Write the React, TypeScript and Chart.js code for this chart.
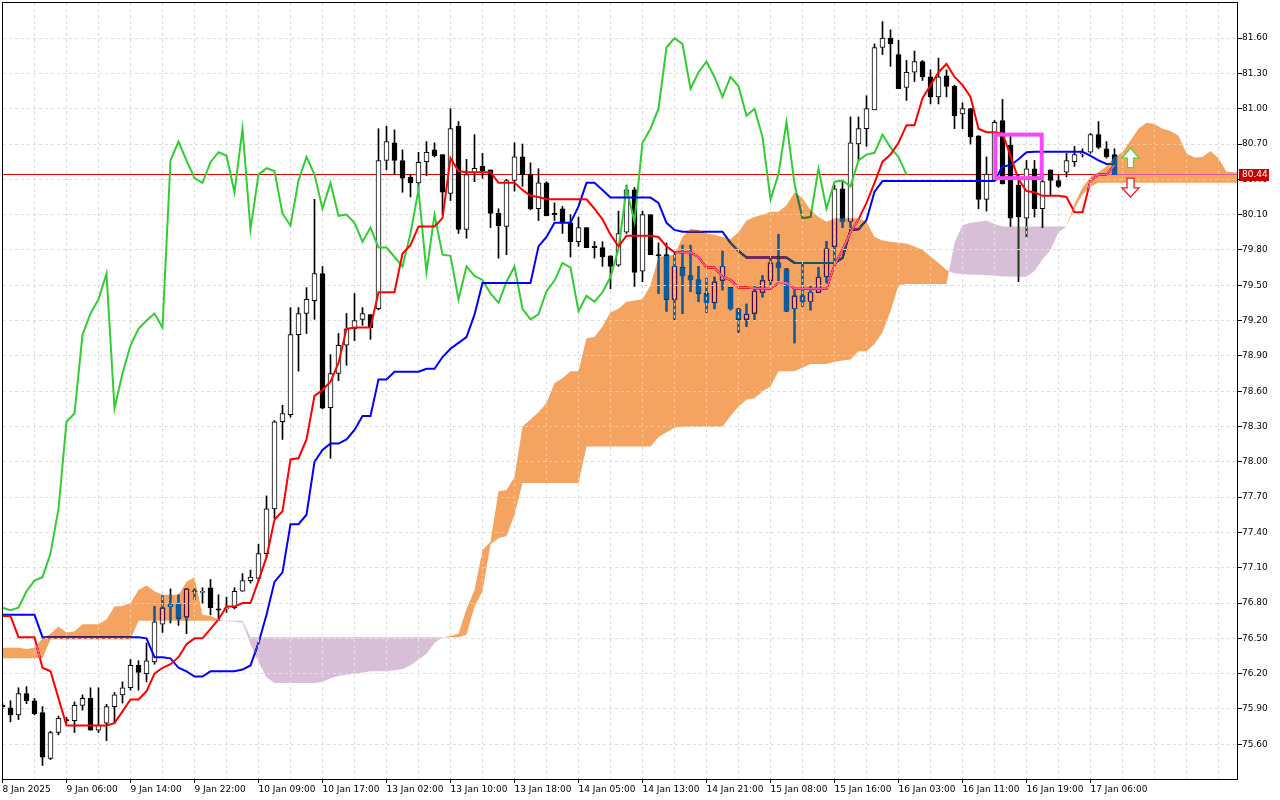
import React, { useEffect, useRef } from "react";
import { Chart, registerables } from "chart.js";

Chart.register(...registerables);

// ---------- axis labels ----------
const xLabels = [
  "8 Jan 2025", "9 Jan 06:00", "9 Jan 14:00", "9 Jan 22:00", "10 Jan 09:00", "10 Jan 17:00",
  "13 Jan 02:00", "13 Jan 10:00", "13 Jan 18:00", "14 Jan 05:00", "14 Jan 13:00", "14 Jan 21:00",
  "15 Jan 08:00", "15 Jan 16:00", "16 Jan 03:00", "16 Jan 11:00", "16 Jan 19:00", "17 Jan 06:00",
];
const barsPerLabel = 8;
const yTickValues = [
  75.6, 75.9, 76.2, 76.5, 76.8, 77.1, 77.4, 77.7, 78.0, 78.3, 78.6,
  78.9, 79.2, 79.5, 79.8, 80.1, 80.4, 80.7, 81.0, 81.3, 81.6,
];

// ---------- hourly candles ----------
const opens = [
  75.93, 75.91, 75.85, 76.03, 75.97, 75.87, 75.48, 75.70, 75.81, 75.80,
  75.93, 75.99, 75.72, 75.78, 75.92, 76.02, 76.08, 76.27, 76.20, 76.30,
  76.62, 76.77, 76.79, 76.68, 76.90, 76.89, 76.93, 76.75, 76.75, 76.76,
  76.90, 76.99, 77.01, 77.22, 77.60, 78.34, 78.40, 79.08, 79.26, 79.37,
  79.60, 78.46, 78.75, 78.99, 79.13, 79.21, 79.25, 79.30, 80.56, 80.71,
  80.56, 80.42, 80.37, 80.55, 80.65, 80.61, 80.28, 80.85, 79.975, 80.456,
  80.51, 80.48, 80.11, 80.00, 80.39, 80.59, 80.44, 80.15, 80.37, 80.11,
  80.15, 80.03, 79.87, 79.99, 79.83, 79.82, 79.75, 79.67, 79.95, 80.31,
  79.62, 80.10, 79.76, 79.76, 79.38, 79.65, 79.58, 79.545, 79.43, 79.35,
  79.54, 79.48, 79.30, 79.21, 79.26, 79.44, 79.54, 79.69, 79.64, 79.30,
  79.41, 79.36, 79.44, 79.57, 79.83, 80.32, 80.04, 80.70, 80.83, 80.99,
  81.52, 81.60, 81.46, 81.18, 81.31, 81.40, 81.27, 81.10, 81.28, 81.19,
  80.955, 81.00, 80.77, 80.23, 80.39, 80.90, 80.69, 80.35, 80.07, 80.49,
  80.15, 80.48, 80.39, 80.46, 80.55, 80.62, 80.63, 80.78, 80.66, 80.61,
];
const highs = [
  75.95, 75.97, 76.08, 76.09, 75.99, 75.92, 75.71, 75.84, 75.83, 75.96,
  76.02, 76.08, 76.08, 75.94, 76.04, 76.13, 76.32, 76.31, 76.46, 76.77,
  76.86, 76.92, 76.87, 76.92, 76.92, 76.93, 77.00, 76.87, 76.85, 76.93,
  77.05, 77.08, 77.30, 77.71, 78.35, 78.48, 79.31, 79.31, 79.48, 80.23,
  79.66, 78.91, 79.09, 79.26, 79.43, 79.31, 79.25, 80.83, 80.85, 80.82,
  80.65, 80.44, 80.63, 80.72, 80.71, 80.61, 81.00, 80.89, 80.57, 80.78,
  80.62, 80.48, 80.15, 80.40, 80.71, 80.70, 80.54, 80.49, 80.38, 80.20,
  80.17, 80.10, 80.08, 79.99, 79.87, 79.87, 79.75, 80.13, 80.35, 80.33,
  80.13, 80.10, 79.86, 79.86, 79.77, 79.84, 79.84, 79.66, 79.56, 79.57,
  79.79, 79.48, 79.30, 79.34, 79.50, 79.58, 79.74, 79.93, 79.64, 79.46,
  79.68, 79.49, 79.65, 79.87, 80.35, 80.39, 80.93, 80.93, 81.11, 81.55,
  81.74, 81.67, 81.58, 81.41, 81.49, 81.41, 81.33, 81.43, 81.33, 81.20,
  81.05, 81.00, 80.77, 80.59, 80.90, 81.08, 80.79, 80.44, 80.56, 80.56,
  80.45, 80.48, 80.44, 80.62, 80.68, 80.66, 80.79, 80.89, 80.72, 80.66,
];
const lows = [
  75.90, 75.79, 75.81, 75.945, 75.85, 75.42, 75.47, 75.68, 75.78, 75.70,
  75.89, 75.72, 75.70, 75.63, 75.78, 75.95, 76.06, 76.06, 76.13, 76.28,
  76.55, 76.63, 76.61, 76.54, 76.83, 76.80, 76.70, 76.65, 76.72, 76.75,
  76.90, 76.97, 76.99, 77.19, 77.52, 78.19, 78.38, 78.77, 79.09, 79.21,
  78.45, 78.03, 78.69, 78.82, 79.03, 79.16, 79.04, 79.29, 80.48, 80.44,
  80.29, 80.25, 80.31, 80.43, 80.59, 80.10, 80.22, 79.94, 79.90, 80.38,
  80.41, 79.99, 79.73, 79.76, 80.30, 80.34, 80.14, 80.05, 80.09, 80.05,
  79.94, 79.74, 79.83, 79.82, 79.73, 79.66, 79.47, 79.66, 79.94, 79.49,
  79.53, 79.76, 79.43, 79.28, 79.21, 79.26, 79.445, 79.36, 79.27, 79.30,
  79.46, 79.29, 79.10, 79.15, 79.21, 79.40, 79.50, 79.54, 79.28, 79.01,
  79.32, 79.29, 79.44, 79.52, 79.70, 79.99, 79.99, 80.56, 80.68, 80.99,
  81.46, 81.36, 81.17, 81.07, 81.23, 81.24, 81.04, 81.04, 81.10, 80.83,
  80.83, 80.70, 80.15, 80.13, 80.39, 80.36, 80.00, 79.53, 79.91, 80.08,
  79.99, 80.26, 80.33, 80.42, 80.51, 80.59, 80.62, 80.66, 80.58, 80.44,
];
const closes = [
  75.92, 75.85, 76.03, 75.97, 75.86, 75.49, 75.70, 75.82, 75.80, 75.93,
  75.99, 75.72, 75.76, 75.92, 76.02, 76.08, 76.27, 76.21, 76.31, 76.64,
  76.76, 76.79, 76.67, 76.92, 76.90, 76.90, 76.76, 76.74, 76.76, 76.90,
  76.99, 77.02, 77.22, 77.60, 78.34, 78.41, 79.08, 79.26, 79.38, 79.60,
  78.455, 78.75, 78.99, 79.13, 79.20, 79.26, 79.14, 80.56, 80.72, 80.56,
  80.41, 80.37, 80.545, 80.63, 80.60, 80.29, 80.83, 79.975, 80.44, 80.494,
  80.47, 80.11, 80.006, 80.39, 80.59, 80.44, 80.15, 80.37, 80.09, 80.10,
  80.03, 79.87, 79.99, 79.82, 79.82, 79.74, 79.66, 79.94, 80.31, 79.61,
  80.10, 79.76, 79.75, 79.38, 79.66, 79.58, 79.545, 79.43, 79.35, 79.53,
  79.66, 79.30, 79.21, 79.255, 79.45, 79.54, 79.69, 79.65, 79.28, 79.41,
  79.36, 79.44, 79.57, 79.81, 80.32, 80.04, 80.71, 80.83, 81.00, 81.52,
  81.60, 81.55, 81.17, 81.31, 81.40, 81.27, 81.10, 81.27, 81.19, 80.94,
  81.00, 80.76, 80.23, 80.445, 80.885, 80.36, 80.07, 80.08, 80.49, 80.15,
  80.38, 80.39, 80.34, 80.56, 80.61, 80.625, 80.78, 80.67, 80.59, 80.44,
];

// ---------- Ichimoku lines ----------
const tenkan = [
  76.69, 76.69, 76.51, 76.51, 76.51, 76.25, 76.22, 75.99, 75.76, 75.76,
  75.76, 75.76, 75.76, 75.76, 75.78, 75.88, 75.98, 75.98, 76.05, 76.20,
  76.25, 76.28, 76.34, 76.45, 76.50, 76.50, 76.58, 76.66, 76.77, 76.77,
  76.80, 76.80, 76.99, 77.19, 77.51, 77.58, 78.02, 78.03, 78.19, 78.56,
  78.61, 78.68, 78.84, 79.13, 79.14, 79.14, 79.14, 79.44, 79.44, 79.44,
  79.77, 79.84, 80.00, 80.00, 80.00, 80.07, 80.58, 80.47, 80.46, 80.46,
  80.46, 80.46, 80.37, 80.37, 80.37, 80.31, 80.26, 80.25, 80.23, 80.23,
  80.23, 80.23, 80.23, 80.23, 80.15, 80.06, 79.93, 79.83, 79.92, 79.92,
  79.92, 79.92, 79.91, 79.83, 79.78, 79.78, 79.78, 79.74, 79.65, 79.65,
  79.57, 79.545, 79.48, 79.48, 79.475, 79.47, 79.47, 79.52, 79.52, 79.47,
  79.47, 79.47, 79.47, 79.47, 79.67, 79.80, 79.95, 80.06, 80.20, 80.37,
  80.55, 80.61, 80.71, 80.86, 80.86, 81.09, 81.20, 81.31, 81.38, 81.27,
  81.20, 81.10, 80.83, 80.80, 80.80, 80.79, 80.60, 80.40, 80.30, 80.29,
  80.26, 80.26, 80.26, 80.25, 80.12, 80.12, 80.39, 80.44, 80.44, 80.52,
];
const kijun = [
  76.70, 76.70, 76.70, 76.70, 76.70, 76.51, 76.51, 76.51, 76.51, 76.51,
  76.51, 76.51, 76.51, 76.51, 76.51, 76.51, 76.51, 76.51, 76.50, 76.34,
  76.34, 76.33, 76.25, 76.22, 76.175, 76.175, 76.22, 76.22, 76.22, 76.22,
  76.235, 76.27, 76.46, 76.70, 76.98, 77.06, 77.47, 77.47, 77.55, 78.00,
  78.10, 78.155, 78.155, 78.19, 78.27, 78.39, 78.39, 78.70, 78.70, 78.765,
  78.765, 78.765, 78.765, 78.79, 78.79, 78.89, 78.96, 79.01, 79.06, 79.25,
  79.52, 79.52, 79.52, 79.52, 79.52, 79.52, 79.52, 79.83, 79.91, 80.03,
  80.03, 80.03, 80.17, 80.37, 80.37, 80.31, 80.245, 80.245, 80.245, 80.245,
  80.245, 80.245, 80.20, 80.03, 79.97, 79.955, 79.955, 79.955, 79.955, 79.955,
  79.955, 79.86, 79.79, 79.735, 79.735, 79.735, 79.735, 79.735, 79.735, 79.69,
  79.69, 79.69, 79.69, 79.69, 79.69, 79.73, 79.97, 79.975, 80.055, 80.295,
  80.385, 80.385, 80.385, 80.385, 80.385, 80.385, 80.385, 80.385, 80.385, 80.385,
  80.385, 80.385, 80.385, 80.385, 80.385, 80.51, 80.52, 80.57, 80.63, 80.635,
  80.635, 80.635, 80.635, 80.635, 80.635, 80.635, 80.60, 80.56, 80.53, 80.53,
];
// lagging span (plotted 26 bars back)
const chikou = [
  76.76, 76.74, 76.76, 76.90, 76.99, 77.02, 77.22, 77.60, 78.34, 78.41,
  79.08, 79.26, 79.38, 79.60, 78.455, 78.75, 78.99, 79.13, 79.20, 79.26,
  79.14, 80.56, 80.72, 80.56, 80.41, 80.37, 80.545, 80.63, 80.60, 80.29,
  80.83, 79.975, 80.44, 80.494, 80.47, 80.11, 80.006, 80.39, 80.59, 80.44,
  80.15, 80.37, 80.09, 80.10, 80.03, 79.87, 79.99, 79.82, 79.82, 79.74,
  79.66, 79.94, 80.31, 79.61, 80.10, 79.76, 79.75, 79.38, 79.66, 79.58,
  79.545, 79.43, 79.35, 79.53, 79.66, 79.30, 79.21, 79.255, 79.45, 79.54,
  79.69, 79.65, 79.28, 79.41, 79.36, 79.44, 79.57, 79.81, 80.32, 80.04,
  80.71, 80.83, 81.00, 81.52, 81.60, 81.55, 81.17, 81.31, 81.40, 81.27,
  81.10, 81.27, 81.19, 80.94, 81.00, 80.76, 80.23, 80.445, 80.885, 80.36,
  80.07, 80.08, 80.49, 80.15, 80.38, 80.39, 80.34, 80.56, 80.61, 80.625,
  80.78, 80.67, 80.59, 80.44,
];
// leading spans (plotted 26 bars ahead)
const spanA = [
  76.42, 76.42, 76.42, 76.41, 76.42, 76.50, 76.54, 76.60, 76.55, 76.56,
  76.62, 76.62, 76.62, 76.66, 76.77, 76.775, 76.80, 76.91, 76.95, 76.90,
  76.87, 76.87, 76.87, 76.98, 77.02, 76.70, 76.69, 76.66, 76.645, 76.64,
  76.635, 76.45, 76.30, 76.17, 76.12, 76.12, 76.12, 76.12, 76.12, 76.12,
  76.13, 76.16, 76.18, 76.19, 76.20, 76.21, 76.22, 76.22, 76.22, 76.23,
  76.24, 76.27, 76.32, 76.37, 76.46, 76.51, 76.52, 76.54, 76.75, 76.91,
  77.25, 77.32, 77.75, 77.76, 77.87, 78.30, 78.36, 78.42, 78.50, 78.67,
  78.71, 78.77, 78.77, 79.05, 79.06, 79.15, 79.27, 79.30, 79.36, 79.37,
  79.38, 79.50, 79.74, 79.75, 79.76, 79.91, 79.98, 79.97, 79.94, 79.93,
  79.91, 79.89, 79.95, 80.05, 80.08, 80.10, 80.125, 80.125, 80.18, 80.29,
  80.24, 80.14, 80.08, 80.04, 80.07, 80.07, 80.07, 80.07, 80.04, 79.91,
  79.88, 79.87, 79.86, 79.855, 79.83, 79.80, 79.745, 79.69, 79.63, 79.60,
  79.595, 79.59, 79.59, 79.587, 79.58, 79.575, 79.575, 79.573, 79.573, 79.62,
  79.72, 79.80, 79.95, 80.00, 80.19, 80.33, 80.42, 80.46, 80.51, 80.59,
  80.63, 80.73, 80.83, 80.88, 80.87, 80.83, 80.81, 80.77, 80.62, 80.585,
  80.59, 80.64, 80.58, 80.465, 80.46, 80.46,
];
const spanB = [
  76.33, 76.33, 76.33, 76.33, 76.33, 76.33, 76.49, 76.49, 76.49, 76.49,
  76.49, 76.49, 76.49, 76.49, 76.49, 76.49, 76.49, 76.65, 76.65, 76.65,
  76.65, 76.65, 76.65, 76.65, 76.65, 76.65, 76.65, 76.65, 76.65, 76.65,
  76.65, 76.51, 76.51, 76.51, 76.51, 76.51, 76.51, 76.51, 76.51, 76.51,
  76.51, 76.51, 76.51, 76.51, 76.51, 76.51, 76.51, 76.51, 76.51, 76.51,
  76.51, 76.51, 76.51, 76.51, 76.51, 76.51, 76.51, 76.51, 76.53, 76.77,
  76.90, 77.30, 77.35, 77.37, 77.55, 77.82, 77.82, 77.82, 77.82, 77.82,
  77.82, 77.82, 77.82, 78.13, 78.13, 78.13, 78.13, 78.13, 78.13, 78.13,
  78.13, 78.13, 78.21, 78.25, 78.29, 78.30, 78.30, 78.30, 78.30, 78.30,
  78.30, 78.39, 78.47, 78.53, 78.54, 78.60, 78.64, 78.77, 78.77, 78.77,
  78.80, 78.83, 78.83, 78.83, 78.85, 78.86, 78.87, 78.94, 78.94, 79.00,
  79.10, 79.28, 79.50, 79.51, 79.51, 79.51, 79.51, 79.51, 79.51, 79.86,
  80.01, 80.03, 80.04, 80.05, 80.02, 80.00, 80.00, 80.00, 80.00, 80.00,
  80.00, 80.00, 80.00, 80.00, 80.15, 80.27, 80.34, 80.37, 80.37, 80.37,
  80.37, 80.37, 80.37, 80.37, 80.37, 80.37, 80.37, 80.37, 80.37, 80.37,
  80.37, 80.37, 80.37, 80.37, 80.37, 80.37,
];

// ---------- annotations ----------
const lastPrice = 80.44;
const boxZone = { fromBar: 124.1, toBar: 129.9, low: 80.41, high: 80.78 };
const buyArrow = { bar: 141, tip: 80.665, base: 80.5 };
const sellArrow = { bar: 141, top: 80.41, tip: 80.25 };

const FONT = '"DejaVu Sans", sans-serif';

function labelFor(v: number): string {
  if (v % barsPerLabel !== 0) return "";
  return xLabels[v / barsPerLabel] ?? "";
}

function drawGrid(chart: any, color: string) {
  const { ctx, chartArea } = chart;
  const { left, right, top, bottom } = chartArea;
  const xs = chart.scales.x;
  const ys = chart.scales.y;
  ctx.save();
  ctx.strokeStyle = color;
  ctx.lineWidth = 1;
  ctx.setLineDash([3, 3]);
  ctx.beginPath();
  for (const t of xs.ticks) {
    if (t.value <= 0) continue;
    const x = Math.round(xs.getPixelForValue(t.value) - 0.5) + 0.5;
    ctx.moveTo(x, top);
    ctx.lineTo(x, bottom);
  }
  for (const t of ys.ticks) {
    const y = Math.round(ys.getPixelForValue(t.value) - 0.5) + 0.5;
    ctx.moveTo(left, y);
    ctx.lineTo(right, y);
  }
  ctx.stroke();
  ctx.restore();
}

function cloudPaths(chart: any) {
  const xs = chart.scales.x;
  const ys = chart.scales.y;
  const up = new Path2D();
  const dn = new Path2D();
  const poly = (p: Path2D, pts: number[][]) => {
    p.moveTo(pts[0][0], pts[0][1]);
    for (let k = 1; k < pts.length; k++) p.lineTo(pts[k][0], pts[k][1]);
    p.closePath();
  };
  const n = Math.min(spanA.length, spanB.length);
  for (let i = 0; i < n - 1; i++) {
    const x0 = xs.getPixelForValue(i);
    const x1 = xs.getPixelForValue(i + 1);
    const a0 = ys.getPixelForValue(spanA[i]);
    const a1 = ys.getPixelForValue(spanA[i + 1]);
    const b0 = ys.getPixelForValue(spanB[i]);
    const b1 = ys.getPixelForValue(spanB[i + 1]);
    const d0 = spanA[i] - spanB[i];
    const d1 = spanA[i + 1] - spanB[i + 1];
    if (d0 >= 0 && d1 >= 0) {
      poly(up, [[x0, a0], [x1, a1], [x1, b1], [x0, b0]]);
    } else if (d0 <= 0 && d1 <= 0) {
      poly(dn, [[x0, a0], [x1, a1], [x1, b1], [x0, b0]]);
    } else {
      const t = d0 / (d0 - d1);
      const xm = x0 + t * (x1 - x0);
      const ym = a0 + t * (a1 - a0);
      const first = d0 > 0 ? up : dn;
      const second = d0 > 0 ? dn : up;
      poly(first, [[x0, a0], [xm, ym], [x0, b0]]);
      poly(second, [[xm, ym], [x1, a1], [x1, b1]]);
    }
  }
  return { up, dn };
}

const ichimokuPlugin = {
  id: "ichimokuPlugin",
  beforeDraw(chart: any) {
    const { ctx, width, height } = chart;
    ctx.save();
    ctx.fillStyle = "#ffffff";
    ctx.fillRect(0, 0, width, height);
    ctx.restore();
  },
  beforeDatasetsDraw(chart: any) {
    const { ctx, chartArea } = chart;
    const { left, right, top, bottom } = chartArea;
    ctx.save();
    ctx.beginPath();
    ctx.rect(left, top, right - left, bottom - top);
    ctx.clip();
    drawGrid(chart, "#dcdcdc");
    const ys = chart.scales.y;
    const y = Math.round(ys.getPixelForValue(lastPrice) - 0.5) + 0.5;
    ctx.strokeStyle = "rgb(225,0,0)";
    ctx.lineWidth = 1;
    ctx.beginPath();
    ctx.moveTo(left, y);
    ctx.lineTo(right, y);
    ctx.stroke();
    ctx.restore();
  },
  afterDatasetsDraw(chart: any) {
    const { ctx, chartArea } = chart;
    const { left, right, top, bottom } = chartArea;
    const xs = chart.scales.x;
    const ys = chart.scales.y;
    const { up, dn } = cloudPaths(chart);
    ctx.save();
    ctx.beginPath();
    ctx.rect(left, top, right - left, bottom - top);
    ctx.clip();
    ctx.globalCompositeOperation = "difference";
    ctx.fillStyle = "rgb(11,91,159)";
    ctx.fill(up);
    ctx.fillStyle = "rgb(39,64,39)";
    ctx.fill(dn);
    ctx.globalCompositeOperation = "source-over";
    ctx.save();
    ctx.clip(up);
    drawGrid(chart, "rgb(249,198,142)");
    ctx.restore();
    ctx.save();
    ctx.clip(dn);
    drawGrid(chart, "rgb(233,220,233)");
    ctx.restore();

    // magenta zone box
    const bx0 = xs.getPixelForValue(boxZone.fromBar);
    const bx1 = xs.getPixelForValue(boxZone.toBar);
    const by0 = ys.getPixelForValue(boxZone.high);
    const by1 = ys.getPixelForValue(boxZone.low);
    ctx.strokeStyle = "rgb(250,70,250)";
    ctx.lineWidth = 4;
    ctx.strokeRect(bx0, by0, bx1 - bx0, by1 - by0);

    // buy arrow (up)
    {
      const cx = xs.getPixelForValue(buyArrow.bar);
      const yt = ys.getPixelForValue(buyArrow.tip);
      const yb = ys.getPixelForValue(buyArrow.base);
      const hh = 10, hw = 8.5, sw = 3;
      ctx.beginPath();
      ctx.moveTo(cx, yt);
      ctx.lineTo(cx + hw, yt + hh);
      ctx.lineTo(cx + sw, yt + hh);
      ctx.lineTo(cx + sw, yb);
      ctx.lineTo(cx - sw, yb);
      ctx.lineTo(cx - sw, yt + hh);
      ctx.lineTo(cx - hw, yt + hh);
      ctx.closePath();
      ctx.fillStyle = "#ffffff";
      ctx.fill();
      ctx.strokeStyle = "rgb(90,205,60)";
      ctx.lineWidth = 1.3;
      ctx.stroke();
    }
    // sell arrow (down)
    {
      const cx = xs.getPixelForValue(sellArrow.bar);
      const yt = ys.getPixelForValue(sellArrow.top);
      const yb = ys.getPixelForValue(sellArrow.tip);
      const hh = 9, hw = 8.5, sw = 3.5;
      ctx.beginPath();
      ctx.moveTo(cx - sw, yt);
      ctx.lineTo(cx + sw, yt);
      ctx.lineTo(cx + sw, yb - hh);
      ctx.lineTo(cx + hw, yb - hh);
      ctx.lineTo(cx, yb);
      ctx.lineTo(cx - hw, yb - hh);
      ctx.lineTo(cx - sw, yb - hh);
      ctx.closePath();
      ctx.fillStyle = "#ffffff";
      ctx.fill();
      ctx.strokeStyle = "rgb(235,30,30)";
      ctx.lineWidth = 1.3;
      ctx.stroke();
    }
    ctx.restore();
  },
  afterDraw(chart: any) {
    const { ctx, chartArea } = chart;
    const { left, right, top, bottom } = chartArea;
    ctx.save();
    ctx.strokeStyle = "#000";
    ctx.lineWidth = 1;
    ctx.strokeRect(left - 0.5, top - 0.5, right - left, bottom - top + 1);
    // last price tag
    const ys = chart.scales.y;
    const y = ys.getPixelForValue(lastPrice);
    ctx.fillStyle = "rgb(200,0,0)";
    ctx.fillRect(right + 1, Math.round(y) - 6, 30, 12);
    ctx.fillStyle = "#fff";
    ctx.font = `9px ${FONT}`;
    ctx.textAlign = "left";
    ctx.textBaseline = "middle";
    ctx.fillText(lastPrice.toFixed(2), right + 4, Math.round(y));
    ctx.restore();
  },
};

export default function App() {
  const ref = useRef<HTMLCanvasElement | null>(null);
  useEffect(() => {
    if (!ref.current) return;
    const idx = closes.map((_, i) => i);
    const bodyData = idx.map((i) => {
      const o = opens[i];
      const c = closes[i];
      if (Math.abs(o - c) < 0.009) return { x: i, y: [o - 0.004, o + 0.0045] };
      return { x: i, y: [o, c] };
    });
    const wickData = idx.map((i) => ({ x: i, y: [lows[i], highs[i]] }));
    const bodyColors = idx.map((i) => (closes[i] > opens[i] ? "#ffffff" : "#000000"));

    const chart = new Chart(ref.current, {
      type: "bar",
      data: {
        datasets: [
          {
            type: "line",
            label: "Tenkan-sen",
            data: tenkan.map((v, i) => ({ x: i, y: v })),
            borderColor: "rgb(255,0,0)",
            borderWidth: 2,
            pointRadius: 0,
            fill: false,
            tension: 0,
            order: 1,
          } as any,
          {
            type: "line",
            label: "Kijun-sen",
            data: kijun.map((v, i) => ({ x: i, y: v })),
            borderColor: "rgb(0,0,255)",
            borderWidth: 2,
            pointRadius: 0,
            fill: false,
            tension: 0,
            order: 2,
          } as any,
          {
            type: "line",
            label: "Chikou Span",
            data: chikou.map((v, i) => ({ x: i, y: v })),
            borderColor: "rgb(50,205,50)",
            borderWidth: 2,
            pointRadius: 0,
            fill: false,
            tension: 0,
            order: 3,
          } as any,
          {
            type: "bar",
            label: "bodies",
            data: bodyData,
            backgroundColor: bodyColors,
            borderColor: "#000000",
            borderWidth: 1,
            borderSkipped: false,
            barThickness: 5,
            grouped: false,
            order: 5,
          } as any,
          {
            type: "bar",
            label: "wicks",
            data: wickData,
            backgroundColor: "#000000",
            borderWidth: 0,
            barThickness: 1,
            grouped: false,
            order: 6,
          } as any,
        ],
      },
      options: {
        responsive: false,
        animation: false,
        devicePixelRatio: 1,
        events: [],
        layout: { padding: { left: 3, top: 3, right: 0, bottom: 0 } },
        plugins: { legend: { display: false }, tooltip: { enabled: false } },
        scales: {
          x: {
            type: "linear",
            position: "bottom",
            offset: false,
            min: 0.0625,
            max: 154.4375,
            afterBuildTicks: (s: any) => {
              const t: any[] = [];
              for (let v = 0; v <= s.max; v += barsPerLabel / 2) t.push({ value: v });
              s.ticks = t;
            },
            afterFit: (s: any) => {
              s.height = 21;
              s.paddingLeft = 0;
              s.paddingRight = 0;
            },
            ticks: {
              autoSkip: false,
              maxRotation: 0,
              minRotation: 0,
              align: "start",
              padding: 1,
              color: "#000",
              font: { family: FONT, size: 9 },
              callback: (v: any) => labelFor(v),
            },
            grid: {
              offset: false,
              drawOnChartArea: false,
              drawTicks: true,
              tickLength: 4,
              tickColor: (c: any) =>
                c.tick && labelFor(c.tick.value) !== "" ? "#000" : "rgba(0,0,0,0)",
            },
            border: { display: false },
          },
          y: {
            type: "linear",
            position: "right",
            min: 75.305,
            max: 81.898,
            afterBuildTicks: (s: any) => {
              s.ticks = yTickValues.map((v) => ({ value: v }));
            },
            afterFit: (s: any) => {
              s.width = 42;
              s.paddingTop = 0;
              s.paddingBottom = 0;
            },
            ticks: {
              padding: 0,
              color: "#000",
              font: { family: FONT, size: 9 },
              callback: (v: any) => Number(v).toFixed(2),
            },
            grid: {
              drawOnChartArea: false,
              drawTicks: true,
              tickLength: 4,
              tickColor: "#000",
            },
            border: { display: false },
          },
        },
      } as any,
      plugins: [ichimokuPlugin],
    });
    return () => chart.destroy();
  }, []);

  return (
    <div style={{ position: "absolute", left: 0, top: 0, width: 1280, height: 800, background: "#fff" }}>
      <canvas ref={ref} width={1280} height={800} style={{ display: "block" }} />
    </div>
  );
}
